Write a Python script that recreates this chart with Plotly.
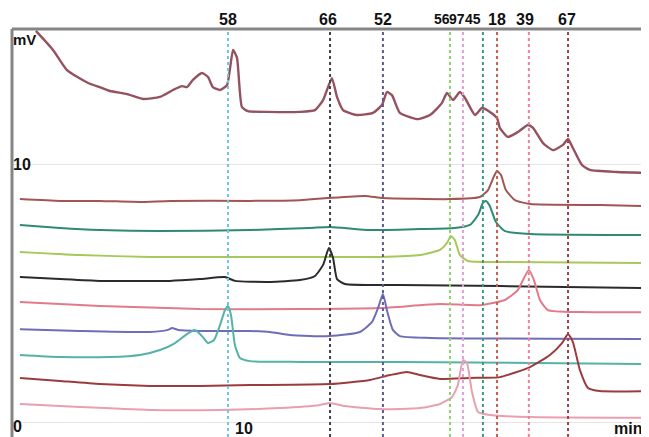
import plotly.graph_objects as go

# ---- data (time in min, signal in mV) ----
t_mix = [1.03, 1.77, 2.37, 3.28, 3.79, 4.22, 4.96, 5.65, 6.38, 6.94, 7.33, 7.54, 7.80, 8.19, 8.45, 8.66, 8.97,
         9.27, 9.53, 9.70, 9.91, 10.17, 10.99, 12.41, 13.06, 13.41, 13.79, 14.01, 14.27, 14.87, 15.56, 15.95,
         16.16, 16.38, 16.72, 17.46, 18.02, 18.53, 18.75, 19.01, 19.31, 19.53, 19.96, 20.26, 20.60, 20.91,
         21.03, 21.38, 21.81, 22.24, 22.46, 22.89, 23.32, 23.75, 23.97, 24.18, 24.57, 24.91, 26.08, 27.46]
v_mix = [15.16, 14.42, 13.64, 13.14, 12.98, 12.83, 12.71, 12.52, 12.60, 12.87, 13.02, 12.98, 13.26, 13.53, 13.37,
         12.98, 12.87, 13.06, 14.42, 14.11, 12.21, 12.05, 12.02, 12.02, 12.09, 12.48, 13.33, 12.60, 12.09, 11.90,
         11.98, 12.29, 12.79, 12.67, 11.98, 11.74, 11.90, 12.36, 12.75, 12.48, 12.79, 12.56, 11.90, 12.17, 12.02,
         11.78, 11.40, 11.05, 11.24, 11.51, 11.40, 10.81, 10.54, 10.74, 10.97, 10.62, 9.96, 9.77, 9.69, 9.65]

t_18 = [0.34, 2.07, 3.79, 5.52, 6.81, 10.26, 12.41, 13.62, 15.22, 15.99, 18.88, 20.17, 20.52, 20.78, 20.91,
        21.08, 21.29, 21.68, 22.33, 25.34, 27.46]
v_18 = [8.64, 8.57, 8.57, 8.53, 8.57, 8.57, 8.60, 8.68, 8.76, 8.68, 8.64, 8.72, 8.99, 9.53, 9.73,
        9.57, 8.99, 8.60, 8.45, 8.41, 8.37]

t_45 = [0.34, 2.07, 3.79, 6.38, 10.26, 12.84, 13.71, 15.43, 17.59, 19.09, 19.74, 20.09, 20.30, 20.43, 20.60,
        20.86, 21.25, 22.33, 27.46]
v_45 = [7.64, 7.52, 7.44, 7.40, 7.44, 7.52, 7.56, 7.44, 7.48, 7.52, 7.64, 8.02, 8.49, 8.57, 8.37,
        7.75, 7.40, 7.29, 7.25]

t_56 = [0.34, 2.93, 5.95, 12.41, 15.86, 17.59, 18.45, 18.75, 18.92, 19.09, 19.31, 19.66, 21.03, 27.46]
v_56 = [6.59, 6.47, 6.40, 6.40, 6.40, 6.47, 6.67, 6.94, 7.21, 7.05, 6.47, 6.24, 6.20, 6.16]

t_66 = [0.34, 2.07, 3.79, 6.81, 8.10, 9.18, 9.61, 11.12, 12.41, 13.06, 13.41, 13.66, 13.84, 14.01, 14.35,
        16.72, 21.03, 27.46]
v_66 = [5.62, 5.54, 5.47, 5.47, 5.54, 5.62, 5.47, 5.43, 5.50, 5.66, 6.09, 6.74, 6.36, 5.54, 5.35,
        5.31, 5.27, 5.19]

t_39 = [0.34, 3.79, 8.10, 12.41, 15.86, 18.45, 20.17, 21.25, 21.81, 22.07, 22.28, 22.50, 22.76, 23.10, 24.48, 27.46]
v_39 = [4.65, 4.50, 4.38, 4.38, 4.42, 4.57, 4.53, 4.73, 5.12, 5.58, 5.89, 5.50, 4.73, 4.34, 4.26, 4.26]

t_52 = [0.34, 2.93, 5.95, 6.72, 6.90, 7.16, 8.10, 10.26, 11.12, 11.98, 13.71, 15.00, 15.52, 15.78, 15.99,
        16.16, 16.42, 16.72, 18.02, 27.46]
v_52 = [3.60, 3.53, 3.49, 3.57, 3.64, 3.57, 3.53, 3.53, 3.49, 3.37, 3.33, 3.49, 3.88, 4.42, 4.96,
        4.34, 3.57, 3.33, 3.26, 3.22]

t_58 = [0.34, 2.07, 4.22, 5.52, 6.38, 7.03, 7.54, 7.89, 8.19, 8.45, 8.71, 8.97, 9.18, 9.31, 9.44, 9.61,
        9.83, 10.26, 12.41, 16.72, 27.46]
v_58 = [2.60, 2.52, 2.52, 2.60, 2.79, 3.06, 3.41, 3.57, 3.33, 3.06, 3.18, 3.76, 4.34, 4.50, 4.15, 2.98,
        2.48, 2.36, 2.33, 2.33, 2.25]

t_67 = [0.34, 2.07, 3.79, 5.95, 8.10, 10.26, 13.71, 15.43, 16.29, 17.03, 17.59, 18.45, 19.74, 21.03, 22.33,
        23.19, 23.71, 23.97, 24.18, 24.48, 24.83, 25.34, 27.46]
v_67 = [1.71, 1.59, 1.47, 1.40, 1.40, 1.43, 1.47, 1.63, 1.82, 1.94, 1.82, 1.67, 1.71, 1.74, 2.13,
        2.60, 3.06, 3.41, 3.10, 2.02, 1.32, 1.20, 1.20]

t_97 = [0.34, 2.93, 5.95, 8.97, 11.55, 13.28, 13.71, 14.35, 15.86, 17.59, 18.45, 18.97, 19.22, 19.44, 19.61,
        19.83, 20.09, 20.60, 22.33, 27.46]
v_97 = [0.70, 0.58, 0.47, 0.47, 0.54, 0.66, 0.74, 0.62, 0.50, 0.54, 0.70, 0.97, 1.43, 2.40, 2.29,
        1.16, 0.39, 0.27, 0.19, 0.16]

peak_labels = ["58", "66", "52", "56", "97", "45", "18", "39", "67"]
peak_times = [9.31, 13.71, 15.99, 18.88, 19.44, 20.30, 20.91, 22.28, 23.97]

# ---- styling ----
traces = [
    (t_mix, v_mix, "#94525f", 2.4),
    (t_18, v_18, "#a25552", 2),
    (t_45, v_45, "#2f8a74", 2),
    (t_56, v_56, "#a7c95a", 2),
    (t_66, v_66, "#2b2b2b", 2),
    (t_39, v_39, "#e27a8a", 2),
    (t_52, v_52, "#6f6db8", 2),
    (t_58, v_58, "#55b3a5", 2),
    (t_67, v_67, "#9c3b3e", 2),
    (t_97, v_97, "#e8a0b0", 2),
]
line_colors = ["#6cc8dc", "#404050", "#5a5a9a", "#90d070", "#e0a0d8", "#3a9a80", "#c06050", "#f08098", "#a04050"]
label_shift = [0, -2, 0, -8, -6, -10, 0, -4, -1]
label_size = [16, 16, 16, 14, 14, 14, 16, 16, 16]

fig = go.Figure()
for t, v, c, w in traces:
    fig.add_trace(go.Scatter(x=t, y=v, mode="lines", line=dict(color=c, width=w, shape="spline", smoothing=0.5),
                             hoverinfo="skip", showlegend=False))

for t, c, lab, dx, fs in zip(peak_times, line_colors, peak_labels, label_shift, label_size):
    fig.add_shape(type="line", xref="x", yref="paper", x0=t, x1=t, y0=0, y1=1,
                  line=dict(color=c, width=2, dash="3px,3px"))
    fig.add_annotation(x=t, y=1, xref="x", yref="paper", text="<b>%s</b>" % lab, showarrow=False,
                       xanchor="center", yanchor="middle", yshift=10, xshift=dx,
                       font=dict(family="Liberation Sans, Arial", size=fs, color="#111"))

# frame lines
fig.add_shape(type="line", xref="paper", yref="paper", x0=0, x1=1, y0=1, y1=1,
              line=dict(color="#858585", width=3))
fig.add_shape(type="line", xref="paper", yref="paper", x0=0, x1=0, y0=0, y1=1,
              line=dict(color="#858585", width=3))

txt_font = dict(family="Liberation Sans, Arial", size=16, color="#111")
fig.add_annotation(x=0, y=1, xref="paper", yref="paper", text="<b>mV</b>", showarrow=False,
                   xanchor="left", yanchor="top", xshift=-1, yshift=0,
                   font=dict(family="Liberation Sans, Arial", size=15, color="#111"))
fig.add_annotation(x=0, y=10, xref="paper", yref="y", text="<b>10</b>", showarrow=False,
                   xanchor="left", yanchor="middle", xshift=-1, font=txt_font)
fig.add_annotation(x=0, y=0, xref="paper", yref="paper", text="<b>0</b>", showarrow=False,
                   xanchor="left", yanchor="bottom", xshift=-1, yshift=0, font=txt_font)
fig.add_annotation(x=10, y=0, xref="x", yref="paper", text="<b>10</b>", showarrow=False,
                   xanchor="center", yanchor="bottom", yshift=-2, font=txt_font)
fig.add_annotation(x=1, y=0, xref="paper", yref="paper", text="<b>min</b>", showarrow=False,
                   xanchor="right", yanchor="bottom", xshift=-5, yshift=-2, font=txt_font)

# page body has an 8px default margin, so the figure is sized to fill the visible window
fig.update_layout(
    width=641, height=429,
    margin=dict(l=4, r=0, t=21, b=0),
    paper_bgcolor="white", plot_bgcolor="white",
    xaxis=dict(range=[0, 27.46], showgrid=False, zeroline=False, showticklabels=False, ticks=""),
    yaxis=dict(range=[-0.581, 15.233], tickvals=[0, 10], showgrid=True, gridcolor="#e6e6e6", gridwidth=1,
               zeroline=False, showticklabels=False, ticks=""),
)

fig.write_html("out.html")
